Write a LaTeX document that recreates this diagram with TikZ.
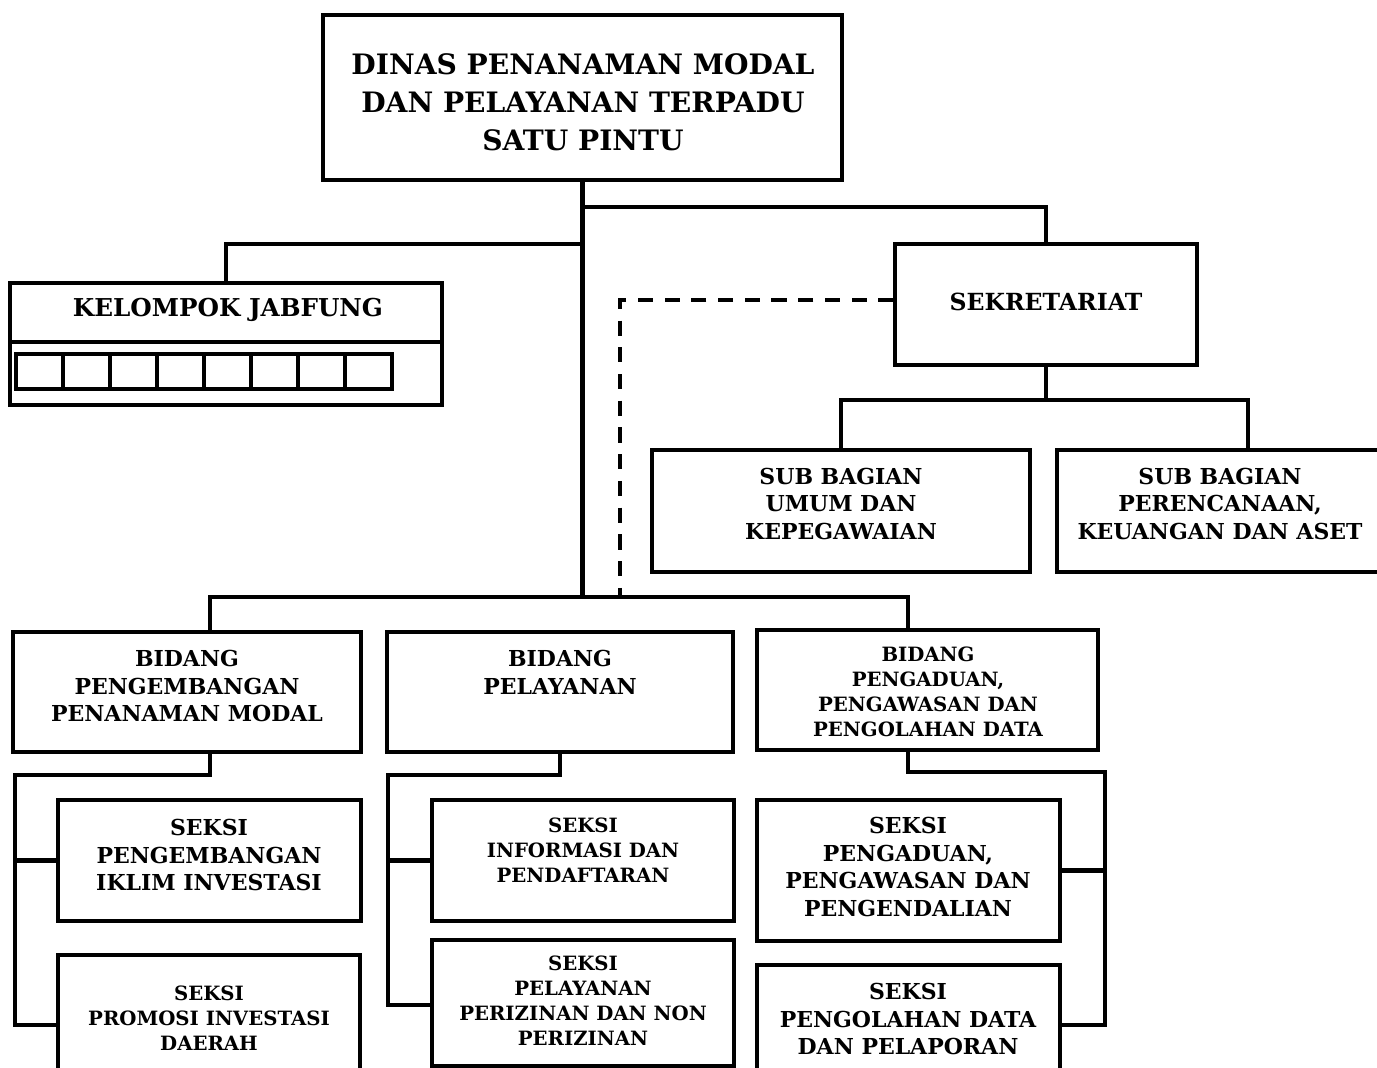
\documentclass[tikz,border=0pt]{standalone}
\usepackage{fontspec}
\setmainfont{DejaVu Serif}
\usetikzlibrary{fit}
\begin{document}
\begin{tikzpicture}[x=0.01cm,y=-0.01cm,
  box/.style={draw, line width=0.9pt, inner sep=0pt},
  conn/.style={line width=1.3pt},
  lbltop/.style={font=\bfseries\fontsize{8}{10.8}\selectfont, align=center, inner sep=0pt},
  lbl/.style={font=\bfseries\fontsize{6.25}{7.9}\selectfont, align=center, inner sep=0pt},
  lbls/.style={font=\bfseries\fontsize{5.6}{7.1}\selectfont, align=center, inner sep=0pt}]
\useasboundingbox (0,0) rectangle (1377,1068);

% boxes
\node[box, fit={(323,15) (842,180)}] (top) {};
\node[box, fit={(10,283) (442,405)}] (jab) {};
\node[box, fit={(895,244) (1197,365)}] (sek) {};
\node[box, fit={(652,450) (1030,572)}] (sb1) {};
\node[box, fit={(1057,450) (1390,572)}] (sb2) {};
\node[box, fit={(13,632) (361,752)}] (bid1) {};
\node[box, fit={(387,632) (733,752)}] (bid2) {};
\node[box, fit={(757,630) (1098,750)}] (bid3) {};
\node[box, fit={(58,800) (361,921)}] (s11) {};
\node[box, fit={(58,955) (360,1080)}] (s12) {};
\node[box, fit={(432,800) (734,921)}] (s21) {};
\node[box, fit={(432,940) (734,1066)}] (s22) {};
\node[box, fit={(757,800) (1060,941)}] (s31) {};
\node[box, fit={(757,965) (1060,1080)}] (s32) {};

% jabfung inner parts
\draw[box] (10,342) -- (442,342);
\foreach \i in {0,...,7} \draw[box] (16+47*\i,354) rectangle ++(47,35);

% labels
\node[lbltop] (ttop) at (583,102) {DINAS PENANAMAN MODAL\\DAN PELAYANAN TERPADU\\SATU PINTU};
\node[lbl, font=\bfseries\fontsize{7}{8}\selectfont] (tjab) at (228,310) {KELOMPOK JABFUNG};
\node[lbl, font=\bfseries\fontsize{6.7}{8}\selectfont] (tsek) at (1046,302) {SEKRETARIAT};
\node[lbl] (tsb1) at (841,504) {SUB BAGIAN\\UMUM DAN\\KEPEGAWAIAN};
\node[lbl] (tsb2) at (1220,504) {SUB BAGIAN\\PERENCANAAN,\\KEUANGAN DAN ASET};
\node[lbl] (tbid1) at (187,686) {BIDANG\\PENGEMBANGAN\\PENANAMAN MODAL};
\node[lbl] (tbid2) at (560,672) {BIDANG\\PELAYANAN};
\node[lbls] (tbid3) at (928,692) {BIDANG\\PENGADUAN,\\PENGAWASAN DAN\\PENGOLAHAN DATA};
\node[lbl] (ts11) at (209,855) {SEKSI\\PENGEMBANGAN\\IKLIM INVESTASI};
\node[lbls] (ts12) at (209,1018) {SEKSI\\PROMOSI INVESTASI\\DAERAH};
\node[lbls] (ts21) at (583,850) {SEKSI\\INFORMASI DAN\\PENDAFTARAN};
\node[lbls] (ts22) at (583,1001) {SEKSI\\PELAYANAN\\PERIZINAN DAN NON\\PERIZINAN};
\node[lbl] (ts31) at (908,867) {SEKSI\\PENGADUAN,\\PENGAWASAN DAN\\PENGENDALIAN};
\node[lbl] (ts32) at (908,1019) {SEKSI\\PENGOLAHAN DATA\\DAN PELAPORAN};

% helper coordinates
\coordinate (sy) at (0,207);
\coordinate (jy) at (0,244);
\coordinate (by) at (0,597);
\coordinate (sby) at (1248,400);
\coordinate (b1c) at (210,0);
\coordinate (b3c) at (908,0);
\coordinate (dc) at (620,300);
\coordinate (L1) at (15,775);
\coordinate (L2) at (15,1025);
\coordinate (M1) at (388,775);
\coordinate (M2) at (388,1005);
\coordinate (R1) at (1105,772);
\coordinate (R2) at (1105,1025);

% connectors
\draw[conn] (top.south) -- (top.south |- by);
\draw[conn] (top.south |- sy) -| (sek.north);
\draw[conn] (top.south |- jy) -| (jab.north);
\draw[conn] (sek.south) -- (sek.south |- sby);
\draw[conn] (sb1.north) |- (sby) -- (sby |- sb2.north);
\draw[conn] (b1c |- bid1.north) |- (b3c |- by) -- (b3c |- bid3.north);
\draw[conn, dash pattern=on 4.3pt off 3.3pt] (sek.west |- dc) -- (dc) -- (dc |- by);

\draw[conn] (b1c |- bid1.south) |- (L1) -- (L2) -- (L2 -| s12.west);
\draw[conn] (s11.west) -- (s11.west -| L1);
\draw[conn] (bid2.south) |- (M1) -- (M2) -- (M2 -| s22.west);
\draw[conn] (s21.west) -- (s21.west -| M1);
\draw[conn] (b3c |- bid3.south) |- (R1) -- (R2) -- (R2 -| s32.east);
\draw[conn] (s31.east) -- (s31.east -| R1);
\end{tikzpicture}
\end{document}
